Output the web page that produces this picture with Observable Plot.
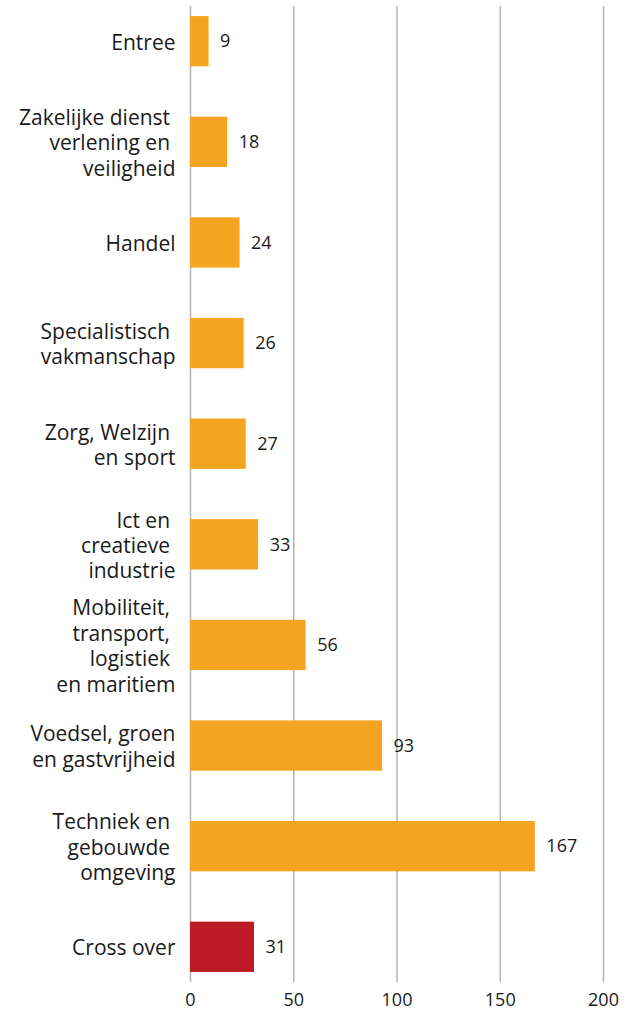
<!DOCTYPE html>
<html>
<head>
<meta charset="utf-8">
<script src="https://cdn.jsdelivr.net/npm/d3@7"></script>
<script src="https://cdn.jsdelivr.net/npm/@observablehq/plot@0.6"></script>
<style>
  html, body { margin: 0; padding: 0; background: #fff; }
  #chart svg { display: block; }
</style>
</head>
<body>
<div id="chart"></div>
<script>
const categories = [
  "Entree",
  "Zakelijke dienst\u00a0\nverlening en\u00a0\nveiligheid",
  "Handel",
  "Specialistisch\u00a0\nvakmanschap",
  "Zorg, Welzijn\u00a0\nen sport",
  "Ict en\u00a0\ncreatieve\u00a0\nindustrie",
  "Mobiliteit,\u00a0\ntransport,\u00a0\nlogistiek\u00a0\nen maritiem",
  "Voedsel, groen\nen gastvrijheid",
  "Techniek en\u00a0\ngebouwde\u00a0\nomgeving",
  "Cross over"
];
const values = [9, 18, 24, 26, 27, 33, 56, 93, 167, 31];
const groups = ["sector", "sector", "sector", "sector", "sector", "sector", "sector", "sector", "sector", "crossover"];
const xTicks = [0, 50, 100, 150, 200];

const data = categories.map((c, i) => ({category: c, value: values[i], group: groups[i]}));

const chart = Plot.plot({
  width: 628,
  height: 1011,
  marginLeft: 190,
  marginRight: 25,
  marginTop: 6,
  marginBottom: 29,
  style: {fontFamily: "'Open Sans', sans-serif", color: "#1a1a1a", background: "#fff"},
  x: {domain: [0, 200], ticks: xTicks},
  y: {domain: categories, paddingInner: 0.5, paddingOuter: 0.1, round: false},
  color: {domain: ["sector", "crossover"], range: ["#F5A422", "#BD1A24"]},
  marks: [
    Plot.gridX(xTicks, {stroke: "#b3b3b3", strokeOpacity: 1, strokeWidth: 1.5}),
    Plot.barX(data, {x: "value", y: "category", fill: "group"}),
    Plot.text(data, {x: "value", y: "category", text: d => String(d.value), dx: 11, textAnchor: "start", fontSize: 18, fill: "#1a1a1a"}),
    Plot.axisX({ticks: xTicks, tickSize: 0, tickPadding: 11, fontSize: 18, label: null}),
    Plot.axisY({tickSize: 0, tickPadding: 15, fontSize: 21, lineHeight: 1.21, label: null})
  ]
});
document.getElementById("chart").appendChild(chart);
</script>
</body>
</html>
